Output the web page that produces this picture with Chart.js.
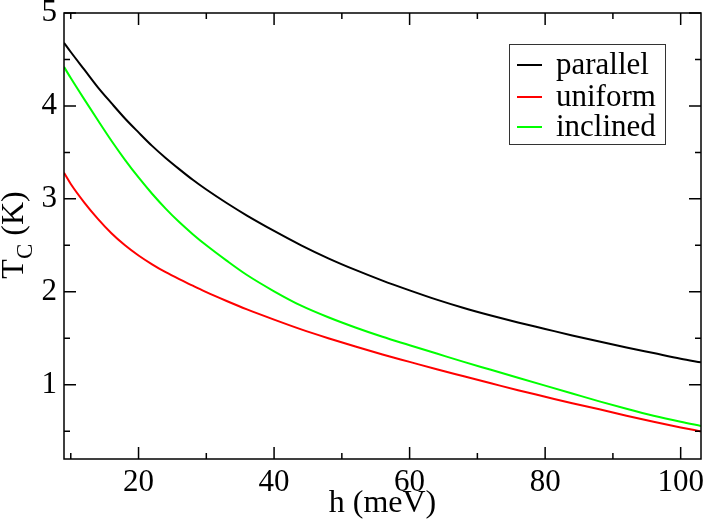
<!DOCTYPE html>
<html>
<head>
<meta charset="utf-8">
<script src="https://cdn.jsdelivr.net/npm/chart.js@4"></script>
<style>
  html, body { margin: 0; padding: 0; background: #fff; }
  #wrap { width: 706px; height: 523px; }
</style>
</head>
<body>
<div id="wrap"><canvas id="grafico"></canvas></div>
<script>
// h (meV) values where the curves were read
const hValores = [9, 10, 12, 14, 16, 18, 20, 22, 24, 26, 28, 30, 33, 36, 40, 44, 48, 52, 56, 60, 64, 68, 72, 76, 80, 84, 88, 92, 96, 100, 103]

const parallel = [4.68, 4.58, 4.39, 4.20, 4.03, 3.865, 3.715, 3.57, 3.44, 3.32, 3.205, 3.10, 2.955, 2.82, 2.655, 2.50, 2.36, 2.235, 2.12, 2.015, 1.915, 1.825, 1.745, 1.67, 1.60, 1.53, 1.465, 1.40, 1.34, 1.28, 1.24]
const uniform = [3.28, 3.16, 2.96, 2.785, 2.63, 2.50, 2.39, 2.295, 2.21, 2.135, 2.065, 1.995, 1.90, 1.81, 1.70, 1.595, 1.50, 1.41, 1.325, 1.245, 1.165, 1.09, 1.015, 0.94, 0.87, 0.80, 0.735, 0.665, 0.60, 0.54, 0.497]
const inclined = [4.42, 4.30, 4.07, 3.845, 3.625, 3.42, 3.23, 3.055, 2.895, 2.75, 2.62, 2.50, 2.335, 2.18, 2.005, 1.85, 1.725, 1.615, 1.515, 1.425, 1.335, 1.245, 1.16, 1.075, 0.99, 0.905, 0.82, 0.74, 0.665, 0.60, 0.556]

const xTicks = [20, 40, 60, 80, 100]
const xMinor = [10, 30, 50, 70, 90]
const yTicks = [1, 2, 3, 4, 5]
const yMinor = [0.5, 1.5, 2.5, 3.5, 4.5]

const fuente = "Liberation Serif, Times New Roman, serif"

const puntos = (ys) => hValores.map((h, i) => ({ x: h, y: ys[i] }))

// frame, inward ticks on all four sides, y title and legend
const marco = {
  id: "marco",
  afterDraw(chart) {
    const ctx = chart.ctx
    const a = chart.chartArea
    const sx = chart.scales.x
    const sy = chart.scales.y
    ctx.save()
    ctx.strokeStyle = "#000"
    ctx.lineWidth = 1.5
    ctx.strokeRect(a.left, a.top, a.right - a.left, a.bottom - a.top)

    const tickX = (v, len) => {
      const px = sx.getPixelForValue(v)
      ctx.beginPath()
      ctx.moveTo(px, a.bottom); ctx.lineTo(px, a.bottom - len)
      ctx.moveTo(px, a.top); ctx.lineTo(px, a.top + len)
      ctx.stroke()
    }
    const tickY = (v, len) => {
      const py = sy.getPixelForValue(v)
      ctx.beginPath()
      ctx.moveTo(a.left, py); ctx.lineTo(a.left + len, py)
      ctx.moveTo(a.right, py); ctx.lineTo(a.right - len, py)
      ctx.stroke()
    }
    xTicks.forEach(v => tickX(v, 12))
    xMinor.forEach(v => tickX(v, 6))
    yTicks.forEach(v => tickY(v, 12))
    yMinor.forEach(v => tickY(v, 6))

    // y axis title: T with subscript C
    ctx.fillStyle = "#000"
    ctx.translate(23, 235)
    ctx.rotate(-Math.PI / 2)
    ctx.textBaseline = "alphabetic"
    ctx.font = "32px " + fuente
    const wT = ctx.measureText("T").width
    ctx.font = "23px " + fuente
    const wC = ctx.measureText("C").width
    ctx.font = "32px " + fuente
    const wK = ctx.measureText(" (K)").width
    let x0 = -(wT + wC + wK) / 2
    ctx.fillText("T", x0, 0)
    ctx.font = "23px " + fuente
    ctx.fillText("C", x0 + wT, 9)
    ctx.font = "32px " + fuente
    ctx.fillText(" (K)", x0 + wT + wC, 0)
    ctx.restore()

    // legend box
    ctx.save()
    ctx.strokeStyle = "#333"
    ctx.lineWidth = 1
    ctx.strokeRect(509.5, 44.5, 156, 100)
    const filas = [65, 97, 127]
    chart.data.datasets.forEach((ds, i) => {
      ctx.strokeStyle = ds.borderColor
      ctx.lineWidth = 2
      ctx.beginPath()
      ctx.moveTo(517, filas[i]); ctx.lineTo(542, filas[i])
      ctx.stroke()
      ctx.fillStyle = "#000"
      ctx.font = "31px " + fuente
      ctx.textBaseline = "middle"
      ctx.fillText(ds.label, 556, filas[i] + 1)
    })
    ctx.restore()
  }
}

const serie = (label, data, color) => ({
  label: label,
  data: data,
  borderColor: color,
  borderWidth: 2,
  pointRadius: 0,
  cubicInterpolationMode: "monotone"
})

new Chart(document.getElementById("grafico"), {
  type: "line",
  data: {
    datasets: [
      serie("parallel", puntos(parallel), "#000000"),
      serie("uniform", puntos(uniform), "#ff0000"),
      serie("inclined", puntos(inclined), "#00ff00")
    ]
  },
  options: {
    responsive: true,
    maintainAspectRatio: false,
    animation: false,
    layout: { padding: { top: 13, right: 5, left: 0, bottom: 0 } },
    plugins: { legend: { display: false }, tooltip: { enabled: false } },
    scales: {
      x: {
        type: "linear",
        min: 9,
        max: 103,
        grid: { display: false, drawTicks: false },
        border: { display: false },
        afterBuildTicks: (s) => { s.ticks = xTicks.map(v => ({ value: v })) },
        afterFit: (s) => { s.height = 64; s.paddingLeft = 0; s.paddingRight = 0 },
        ticks: { color: "#000", font: { family: fuente, size: 31 }, padding: 5, maxRotation: 0 },
        title: { display: true, text: "h (meV)", color: "#000", font: { family: fuente, size: 32 }, padding: { top: 0, bottom: 0 } }
      },
      y: {
        type: "linear",
        min: 0.2,
        max: 5,
        grid: { display: false, drawTicks: false },
        border: { display: false },
        afterBuildTicks: (s) => { s.ticks = yTicks.map(v => ({ value: v })) },
        afterFit: (s) => { s.width = 64; s.paddingTop = 0; s.paddingBottom = 0 },
        ticks: { color: "#000", font: { family: fuente, size: 31 }, padding: 7 }
      }
    }
  },
  plugins: [marco]
})
</script>
</body>
</html>
